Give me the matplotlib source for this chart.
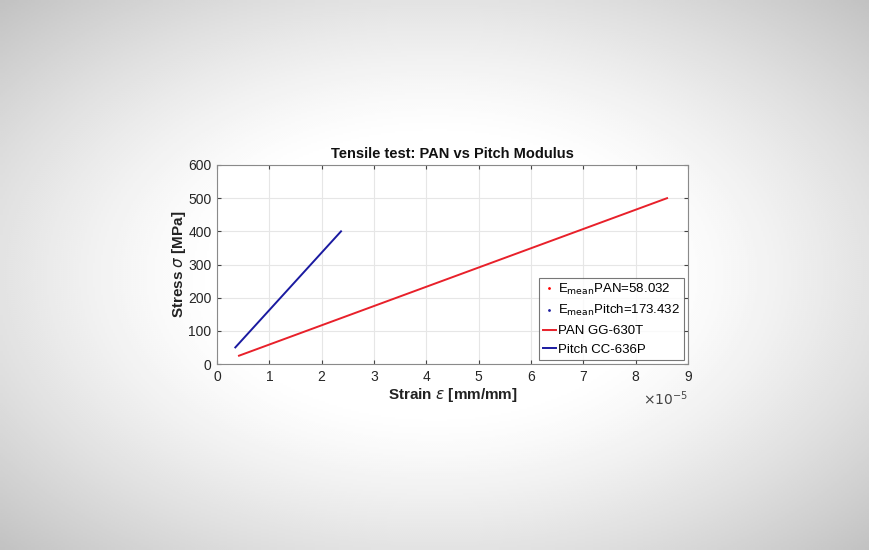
import numpy as np
import matplotlib
matplotlib.use("Agg")
import matplotlib.pyplot as plt

plt.rcParams['font.family'] = ['Liberation Sans', 'DejaVu Sans']
plt.rcParams['mathtext.fontset'] = 'dejavusans'

# Data (strain in units of 1e-5 mm/mm, stress in MPa)
pan_strain = [0.42, 8.60]
pan_stress = [25, 500]
pitch_strain = [0.35, 2.37]
pitch_stress = [50, 400]
e_mean_pan = 58.032
e_mean_pitch = 173.432
xticks = list(range(0, 10))
yticks = list(range(0, 700, 100))

fig = plt.figure(figsize=(8.7, 5.5), dpi=100)

# vignette background
bg = fig.add_axes([0, 0, 1, 1], zorder=-10)
yy, xx = np.mgrid[-1:1:275j, -1:1:435j]
r = np.sqrt(xx ** 2 + yy ** 2) / np.sqrt(2)
shade = 1.0 - 0.24 * np.clip((r - 0.35) / 0.65, 0, 1) ** 1.3
bg.imshow(shade, cmap='gray', vmin=0, vmax=1, aspect='auto', interpolation='bilinear')
bg.axis('off')

ax = fig.add_axes([217 / 870, 1 - 364 / 550, (688 - 217) / 870, (364 - 165) / 550])
ax.set_facecolor('white')

ax.plot([], [], linestyle='none', marker='.', markersize=2, color='red',
        label=r'E$_{\mathrm{mean}}$PAN=%.3f' % e_mean_pan)
ax.plot([], [], linestyle='none', marker='.', markersize=2, color='#2020a0',
        label=r'E$_{\mathrm{mean}}$Pitch=%.3f' % e_mean_pitch)
ax.plot(pan_strain, pan_stress, color='#e8202a', lw=1.4, label='PAN GG-630T')
ax.plot(pitch_strain, pitch_stress, color='#1a1aa0', lw=1.4, label='Pitch CC-636P')

ax.set_xlim(0, 9)
ax.set_ylim(0, 600)
ax.set_xticks(xticks)
ax.set_yticks(yticks)
ax.tick_params(direction='in', length=3, color='#444444', labelsize=10,
               labelcolor='#262626', top=True, right=True, pad=4)
ax.grid(True, color='#e6e6e6', lw=0.8)
ax.set_axisbelow(True)
for s in ax.spines.values():
    s.set_color('#8a8a8a')
    s.set_linewidth(0.8)

ax.set_title('Tensile test: PAN vs Pitch Modulus', fontsize=10.5, fontweight='bold',
             color='#111111', pad=5)
ax.set_xlabel(r'Strain $\epsilon$ [mm/mm]', fontsize=11, fontweight='bold',
              color='#222222', labelpad=2)
ax.set_ylabel(r'Stress $\sigma$ [MPa]', fontsize=11, fontweight='bold',
              color='#222222', labelpad=0)
ax.text(1.0, -0.13, r'$\times10^{-5}$', transform=ax.transAxes, ha='right', va='top',
        fontsize=10, color='#444444')

leg = ax.legend(loc='lower right', fontsize=9.5, frameon=True, fancybox=False,
                edgecolor='#555555', handlelength=1.0, handletextpad=0.15,
                borderpad=0.3, labelspacing=0.5, borderaxespad=0.3,
                markerscale=1.0)
leg.get_frame().set_linewidth(0.8)

fig.savefig('out.png', dpi=100)
